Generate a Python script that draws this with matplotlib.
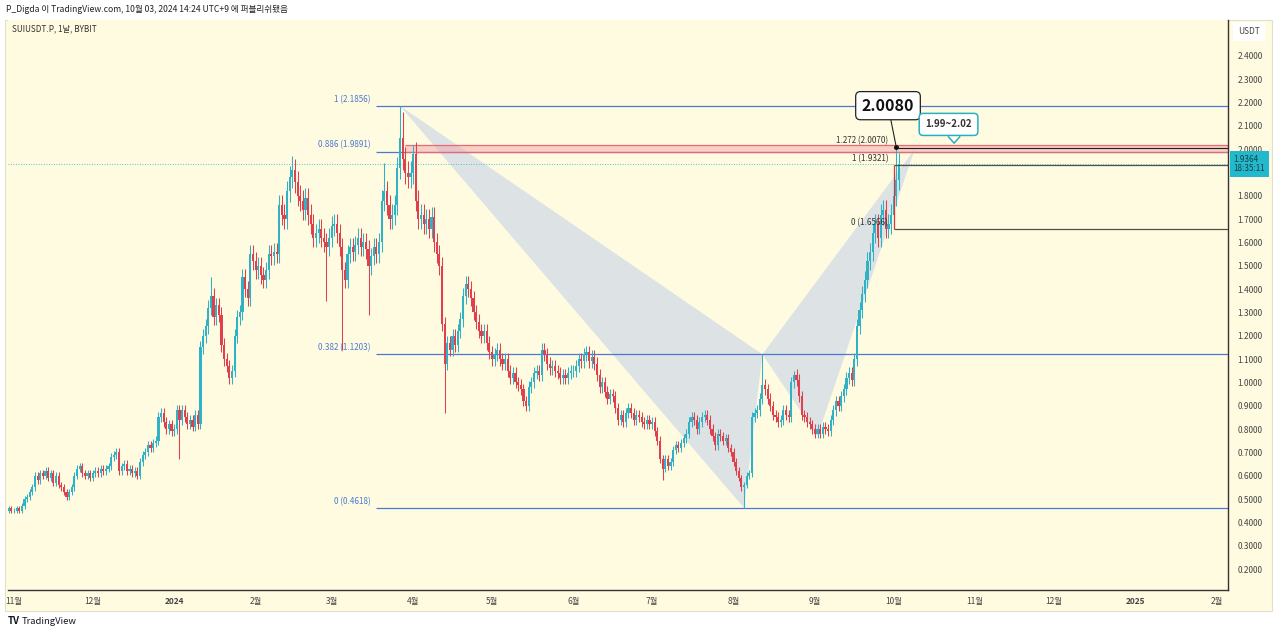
import numpy as np
import matplotlib
matplotlib.use("Agg")
import matplotlib.pyplot as plt
from matplotlib.patches import Rectangle, Polygon
from matplotlib.transforms import blended_transform_factory, offset_copy

plt.rcParams['font.family'] = ['Noto Sans CJK KR', 'DejaVu Sans']

# Daily closes, SUIUSDT.P, first candle 2023-10-30
start = np.datetime64('2023-10-30')
closes_oct23 = [0.46, 0.45]
closes_nov23 = [0.45, 0.46, 0.45, 0.47, 0.50, 0.51, 0.53, 0.55, 0.60, 0.58,
                0.61, 0.60, 0.62, 0.59, 0.61, 0.57, 0.60, 0.56, 0.55, 0.53,
                0.51, 0.53, 0.55, 0.60, 0.63, 0.64, 0.61, 0.60, 0.61, 0.59]
closes_dec23 = [0.61, 0.62, 0.61, 0.63, 0.62, 0.63, 0.64, 0.68, 0.69, 0.70,
                0.62, 0.64, 0.65, 0.62, 0.63, 0.61, 0.62, 0.60, 0.66, 0.69,
                0.70, 0.73, 0.72, 0.74, 0.75, 0.85, 0.87, 0.83, 0.80, 0.82,
                0.79]
closes_jan24 = [0.80, 0.88, 0.84, 0.88, 0.85, 0.82, 0.84, 0.81, 0.86, 0.82,
                1.15, 1.20, 1.24, 1.32, 1.37, 1.28, 1.33, 1.29, 1.16, 1.10,
                1.07, 1.02, 1.05, 1.20, 1.28, 1.30, 1.45, 1.40, 1.36, 1.55,
                1.52]
closes_feb24 = [1.48, 1.50, 1.46, 1.44, 1.48, 1.55, 1.54, 1.56, 1.55, 1.76,
                1.72, 1.70, 1.82, 1.88, 1.91, 1.86, 1.80, 1.78, 1.74, 1.79,
                1.72, 1.68, 1.62, 1.64, 1.66, 1.62, 1.60, 1.58, 1.62]
closes_mar24 = [1.67, 1.68, 1.64, 1.58, 1.48, 1.44, 1.55, 1.58, 1.56, 1.59,
                1.62, 1.58, 1.60, 1.57, 1.50, 1.54, 1.58, 1.55, 1.60, 1.78,
                1.82, 1.76, 1.70, 1.72, 1.76, 1.92, 2.05, 1.96, 1.90, 1.88,
                1.90]
closes_apr24 = [1.98, 1.78, 1.70, 1.72, 1.68, 1.70, 1.66, 1.71, 1.60, 1.55,
                1.50, 1.25, 1.08, 1.17, 1.14, 1.20, 1.16, 1.22, 1.27, 1.37,
                1.42, 1.40, 1.36, 1.30, 1.26, 1.22, 1.20, 1.22, 1.17, 1.13]
closes_may24 = [1.10, 1.12, 1.14, 1.10, 1.08, 1.10, 1.05, 1.02, 1.04, 1.00,
                0.99, 0.97, 0.92, 0.90, 0.98, 1.00, 1.04, 1.05, 1.03, 1.14,
                1.12, 1.08, 1.06, 1.07, 1.05, 1.04, 1.02, 1.03, 1.02, 1.04,
                1.05]
closes_jun24 = [1.05, 1.07, 1.10, 1.09, 1.12, 1.13, 1.09, 1.11, 1.08, 1.03,
                0.98, 1.00, 0.96, 0.93, 0.95, 0.94, 0.89, 0.84, 0.86, 0.83,
                0.87, 0.89, 0.87, 0.84, 0.86, 0.85, 0.83, 0.82, 0.84, 0.82]
closes_jul24 = [0.83, 0.79, 0.75, 0.67, 0.63, 0.67, 0.64, 0.66, 0.71, 0.73,
                0.72, 0.74, 0.76, 0.78, 0.83, 0.85, 0.84, 0.80, 0.83, 0.85,
                0.86, 0.84, 0.80, 0.77, 0.73, 0.78, 0.77, 0.75, 0.76, 0.72,
                0.70]
closes_aug24 = [0.66, 0.62, 0.59, 0.55, 0.56, 0.60, 0.61, 0.85, 0.87, 0.88,
                0.93, 0.99, 0.97, 0.93, 0.90, 0.86, 0.85, 0.83, 0.84, 0.88,
                0.86, 0.85, 1.00, 1.03, 1.01, 0.94, 0.86, 0.85, 0.83, 0.82,
                0.80]
closes_sep24 = [0.78, 0.80, 0.78, 0.81, 0.80, 0.79, 0.84, 0.88, 0.92, 0.90,
                0.94, 0.97, 1.02, 1.04, 1.01, 1.10, 1.24, 1.31, 1.38, 1.44,
                1.52, 1.56, 1.64, 1.68, 1.62, 1.72, 1.74, 1.66, 1.68, 1.72]
closes_oct24 = [1.80, 1.87, 1.9364]

# long wicks that stand out on the chart
wick_highs = {'2024-01-15': 1.45, '2024-02-15': 1.97, '2024-03-21': 1.94,
              '2024-03-27': 2.1856, '2024-03-28': 2.16, '2024-04-01': 2.02,
              '2024-08-12': 1.1203, '2024-08-24': 1.05, '2024-10-02': 2.008}
wick_lows = {'2024-01-03': 0.67, '2024-02-28': 1.35, '2024-03-05': 1.14,
             '2024-03-15': 1.29, '2024-04-13': 0.87, '2024-07-05': 0.58,
             '2024-08-05': 0.4618}

# drawings
fib_levels = [2.1856, 1.9891, 1.1203, 0.4618]
fib_labels = ['1 (2.1856)', '0.886 (1.9891)', '0.382 (1.1203)', '0 (0.4618)']
fib_start = '2024-03-18'
prz_low, prz_high, prz_start = 1.99, 2.02, '2024-03-29'
pattern_dates = ['2024-03-27', '2024-08-05', '2024-08-12', '2024-09-02', '2024-10-09']
pattern_prices = [2.1856, 0.4618, 1.1203, 0.77, 2.00]
box_top, box_bottom, box_ext, box_start = 1.9321, 1.6566, 2.0070, '2024-10-01'
last_price = 1.9364

month_ticks = ['2023-11-01', '2023-12-01', '2024-01-01', '2024-02-01', '2024-03-01',
               '2024-04-01', '2024-05-01', '2024-06-01', '2024-07-01', '2024-08-01',
               '2024-09-01', '2024-10-01', '2024-11-01', '2024-12-01', '2025-01-01',
               '2025-02-01']
month_labels = ['11월', '12월', '2024', '2월', '3월', '4월', '5월', '6월', '7월',
                '8월', '9월', '10월', '11월', '12월', '2025', '2월']
price_ticks = [2.4, 2.3, 2.2, 2.1, 2.0, 1.8, 1.7, 1.6, 1.5, 1.4, 1.3, 1.2, 1.1,
               1.0, 0.9, 0.8, 0.7, 0.6, 0.5, 0.4, 0.3, 0.2]

BG = '#FFFBE0'
UP = '#30B2C6'
DOWN = '#E0404D'
BLUE = '#4A78D4'
TEAL = '#2AAFC0'

origin = np.datetime64('2023-11-01')


def day(s):
    return int((np.datetime64(s) - origin).astype(int))


closes = np.array(closes_oct23 + closes_nov23 + closes_dec23 + closes_jan24 + closes_feb24
                  + closes_mar24 + closes_apr24 + closes_may24 + closes_jun24 + closes_jul24
                  + closes_aug24 + closes_sep24 + closes_oct24)
n = len(closes)
dates = start + np.arange(n)
x = (dates - origin).astype(int)
opens = np.concatenate([[0.45], closes[:-1]])
top = np.maximum(opens, closes)
bot = np.minimum(opens, closes)
highs = top * 1.025
lows = bot * 0.975
for k, v in wick_highs.items():
    highs[day(k) - x[0]] = v
for k, v in wick_lows.items():
    lows[day(k) - x[0]] = v
colors = np.where(closes >= opens, UP, DOWN)

fig = plt.figure(figsize=(12.8, 6.34), dpi=100)
fig.patch.set_facecolor('white')
W, H = 1280, 634
fig.add_artist(Rectangle((5 / W, 1 - 611 / H), 1267 / W, 591 / H, transform=fig.transFigure,
                         fc=BG, ec='#e2dfcc', lw=0.8, zorder=0))
ax = fig.add_axes([8 / W, 1 - 590 / H, 1220 / W, 570 / H])
ax.set_facecolor(BG)
ax.set_xlim(-2.285, 462.3)
ax.set_ylim(0.110, 2.554)

# harmonic pattern
px = [day(d) for d in pattern_dates]
ax.fill([px[0], px[1], px[2]], pattern_prices[:3], color='#DDE2E4', lw=0, zorder=1)
ax.fill([px[2], px[3], px[4]], pattern_prices[2:], color='#DDE2E4', lw=0, zorder=1)

# fib retracement
fs = day(fib_start)
ax.hlines(fib_levels, fs, 462.3, color=BLUE, lw=0.9, zorder=2)
for lv, lb in zip(fib_levels, fib_labels):
    ax.annotate(lb, xy=(fs, lv), xytext=(-4, 1.5), textcoords='offset points',
                ha='right', va='bottom', fontsize=5.8, color=BLUE)

# PRZ band
ps = day(prz_start)
ax.add_patch(Rectangle((ps, prz_low), 462.3 - ps, prz_high - prz_low, fc='#F4A3AA',
                       alpha=0.5, ec='none', zorder=2))
ax.hlines([prz_low, prz_high], ps, 462.3, color='#E46A74', lw=0.9, zorder=2)

# current price line
ax.axhline(last_price, color='#4FC3D0', lw=0.7, ls=(0, (1, 1.6)), zorder=2)

# candles
ax.vlines(x, lows, highs, colors=colors, lw=0.75, zorder=3)
ax.bar(x, top - bot, bottom=bot, width=0.82, color=colors, lw=0, zorder=3)

# fib extension box
bs = day(box_start)
ax.hlines([box_top, box_bottom], bs, 462.3, color='#505050', lw=0.9, zorder=4)
ax.vlines(bs, box_bottom, box_top, color='#D03A3A', lw=0.9, zorder=4)
ax.hlines(box_ext, bs, 462.3, color='#202020', lw=0.8, zorder=4)
for lv, lb in [(box_ext, '1.272 (2.0070)'), (box_top, '1 (1.9321)'), (box_bottom, '0 (1.6566)')]:
    ax.annotate(lb, xy=(bs, lv), xytext=(-4, 1.5), textcoords='offset points',
                ha='right', va='bottom', fontsize=5.8, color='#333333', zorder=5)

# 2.0080 callout
hi_day = day('2024-10-02')
ax.plot([hi_day], [wick_highs['2024-10-02']], 'o', ms=2.5, color='#111111', zorder=6)
ax.annotate('2.0080', xy=(hi_day, wick_highs['2024-10-02']), xytext=(-6, 30),
            textcoords='offset points', ha='center', va='center', fontsize=11.5,
            fontweight='bold', color='#111111', zorder=7,
            bbox=dict(boxstyle='round,pad=0.38,rounding_size=0.3', fc='white', ec='#222222', lw=0.9),
            arrowprops=dict(arrowstyle='-', color='#222222', lw=0.8, shrinkA=0, shrinkB=1))

# 1.99~2.02 callout
tip_day = day('2024-10-24')
t_box = offset_copy(ax.transData, fig=fig, x=-4, y=14.5, units='points')
ax.text(tip_day, prz_high, '1.99~2.02', transform=t_box, ha='center', va='center',
        fontsize=7, fontweight='bold', color='#333333', zorder=7,
        bbox=dict(boxstyle='round,pad=0.62,rounding_size=0.4', fc='white', ec=TEAL, lw=1.1))
pts = np.array([offset_copy(ax.transData, fig=fig, x=a, y=b, units='points')
                .transform((tip_day, prz_high))
                for a, b in zip((-4, 0, 4), (5.5, 1, 5.5))])
fig.add_artist(Polygon(pts, closed=True, fc='white', ec='none', zorder=8, transform=None))
fig.add_artist(plt.Line2D(pts[:, 0], pts[:, 1], color=TEAL, lw=1.1, zorder=9, transform=None))

# axes styling
for s in ['top', 'left']:
    ax.spines[s].set_visible(False)
for s in ['bottom', 'right']:
    ax.spines[s].set_color('#333333')
    ax.spines[s].set_linewidth(1.0)
ax.yaxis.tick_right()
ax.set_yticks(price_ticks)
ax.set_yticklabels([f'{v:.4f}' for v in price_ticks])
ax.tick_params(axis='y', length=0, pad=7, labelsize=6, labelcolor='#444444')
ax.set_xticks([day(d) for d in month_ticks])
ax.set_xticklabels(month_labels)
ax.tick_params(axis='x', length=0, pad=5, labelsize=6, labelcolor='#444444')
for lbl in ax.get_xticklabels():
    if lbl.get_text() in ('2024', '2025'):
        lbl.set_fontweight('bold')

# last price tag
tr = blended_transform_factory(ax.transAxes, ax.transData)
ax.text(1.0045, last_price, '1.9364\n18:35:11', transform=tr, ha='left', va='center',
        fontsize=5.8, color='#1b3c44', linespacing=1.0, clip_on=False, zorder=10,
        bbox=dict(boxstyle='square,pad=0.45', fc='#22B9CC', ec='none'))

# header / title / branding
fig.text(6 / W, 1 - 10 / H, 'P_Digda 이 TradingView.com, 10월 03, 2024 14:24 UTC+9 에 퍼블리쉬됐음',
         fontsize=6.2, color='#222222', va='center', ha='left')
fig.text(12 / W, 1 - 29 / H, 'SUIUSDT.P, 1날, BYBIT', fontsize=5.9, color='#333333',
         va='center', ha='left')
fig.text(1249 / W, 1 - 31 / H, 'USDT', fontsize=6, color='#444444', va='center', ha='center',
         bbox=dict(boxstyle='square,pad=0.6', fc='white', ec='none'))
fig.text(8 / W, 1 - 621 / H, 'TV', fontsize=7, fontweight='heavy', color='#131722',
         va='center', ha='left')
fig.text(22 / W, 1 - 621 / H, 'TradingView', fontsize=6.8, color='#131722',
         va='center', ha='left')

fig.savefig('out.png', dpi=100, facecolor='white')
